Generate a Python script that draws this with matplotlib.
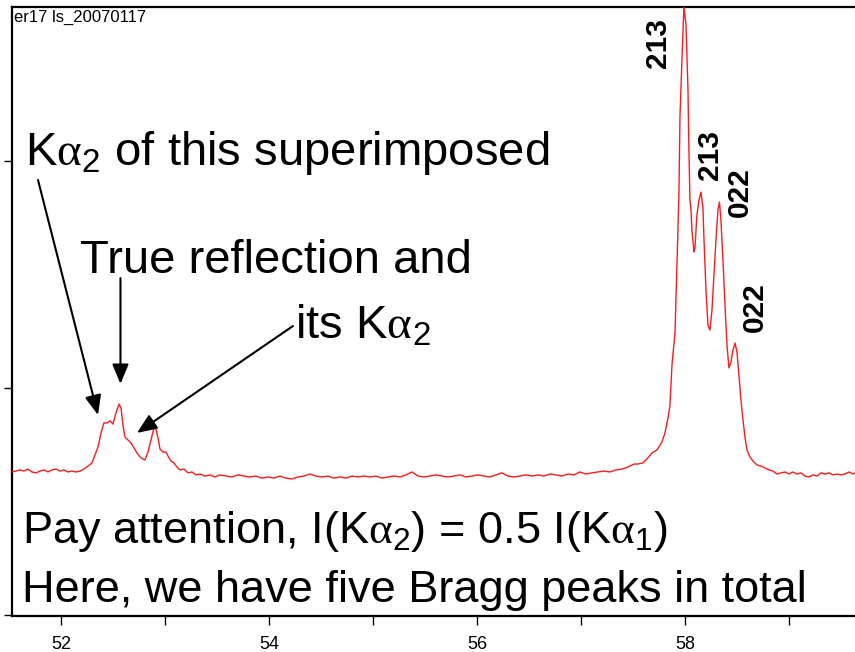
import matplotlib
matplotlib.use('Agg')
import matplotlib.pyplot as plt
from matplotlib import font_manager

# ── fonts ─────────────────────────────────────────────────────────────────────
plt.rcParams['font.family'] = ['Liberation Sans', 'DejaVu Sans']
plt.rcParams['mathtext.fontset'] = 'custom'
plt.rcParams['mathtext.rm'] = 'Liberation Sans'
plt.rcParams['mathtext.it'] = 'Liberation Sans:italic'
plt.rcParams['mathtext.sf'] = 'Liberation Serif'   # upright serif alpha
installed = {f.name for f in font_manager.fontManager.ttflist}
TICK_FONT = 'Liberation Sans Narrow' if 'Liberation Sans Narrow' in installed else 'Liberation Sans'

# ── diffraction scan (2theta in degrees, intensity in counts) ────────────────
two_theta = [
    51.529, 51.567, 51.606, 51.644, 51.683, 51.721, 51.760, 51.798, 51.837, 51.875,
    51.913, 51.952, 51.990, 52.029, 52.067, 52.106, 52.144, 52.183, 52.221, 52.260,
    52.298, 52.327, 52.356, 52.385, 52.413, 52.442, 52.471, 52.500, 52.529, 52.558,
    52.577, 52.596, 52.615, 52.644, 52.673, 52.702, 52.731, 52.760, 52.788, 52.808,
    52.837, 52.865, 52.894, 52.913, 52.933, 52.952, 52.981, 53.010, 53.029, 53.058,
    53.087, 53.115, 53.144, 53.183, 53.221, 53.260, 53.298, 53.337, 53.385, 53.433,
    53.481, 53.529, 53.587, 53.644, 53.702, 53.760, 53.817, 53.875, 53.933, 53.990,
    54.048, 54.106, 54.163, 54.221, 54.279, 54.337, 54.394, 54.452, 54.510, 54.567,
    54.625, 54.683, 54.740, 54.798, 54.856, 54.913, 54.971, 55.029, 55.087, 55.144,
    55.202, 55.260, 55.317, 55.375, 55.433, 55.490, 55.548, 55.606, 55.663, 55.721,
    55.779, 55.837, 55.894, 55.952, 56.010, 56.067, 56.125, 56.183, 56.240, 56.298,
    56.356, 56.413, 56.471, 56.529, 56.587, 56.644, 56.702, 56.760, 56.817, 56.875,
    56.933, 56.990, 57.048, 57.106, 57.163, 57.221, 57.279, 57.337, 57.394, 57.433,
    57.471, 57.510, 57.548, 57.596, 57.644, 57.683, 57.731, 57.779, 57.808, 57.837,
    57.856, 57.875, 57.904, 57.923, 57.942, 57.952, 57.971, 57.990, 58.010, 58.019,
    58.029, 58.038, 58.048, 58.058, 58.067, 58.087, 58.096, 58.115, 58.135, 58.154,
    58.173, 58.183, 58.202, 58.221, 58.240, 58.260, 58.279, 58.298, 58.317, 58.332,
    58.346, 58.365, 58.385, 58.404, 58.423, 58.442, 58.462, 58.481, 58.500, 58.519,
    58.538, 58.558, 58.577, 58.596, 58.625, 58.654, 58.692, 58.731, 58.769, 58.808,
    58.846, 58.885, 58.923, 58.962, 59.000, 59.038, 59.077, 59.115, 59.154, 59.192,
    59.231, 59.269, 59.308, 59.346, 59.385, 59.423, 59.462, 59.500, 59.538, 59.577,
    59.615, 59.635,
]
counts = [
    630, 634, 639, 634, 643, 630, 626, 634, 639, 630,
    639, 643, 634, 639, 630, 634, 630, 634, 643, 656,
    670, 705, 740, 802, 846, 846, 855, 841, 890, 929,
    912, 837, 784, 771, 758, 736, 714, 696, 687, 683,
    718, 771, 824, 819, 780, 731, 718, 718, 700, 678,
    670, 652, 639, 643, 626, 630, 617, 621, 612, 617,
    608, 617, 612, 608, 617, 612, 608, 612, 603, 608,
    603, 612, 603, 599, 608, 612, 621, 612, 608, 612,
    603, 608, 603, 612, 608, 612, 608, 612, 603, 608,
    612, 608, 617, 630, 612, 608, 612, 617, 612, 608,
    612, 617, 608, 612, 617, 612, 608, 617, 626, 612,
    608, 612, 617, 612, 617, 612, 621, 617, 612, 621,
    617, 630, 621, 626, 630, 634, 630, 639, 643, 648,
    656, 665, 665, 670, 692, 714, 727, 762, 802, 868,
    925, 1101, 1242, 1542, 1859, 2194, 2445, 2680, 2599, 2467,
    2313, 2048, 1828, 1784, 1696, 1599, 1617, 1762, 1828, 1863,
    1793, 1652, 1432, 1277, 1255, 1344, 1498, 1652, 1784, 1819,
    1740, 1564, 1366, 1189, 1088, 1114, 1167, 1198, 1159, 1057,
    947, 859, 784, 727, 696, 678, 661, 656, 648, 639,
    634, 621, 626, 630, 621, 630, 621, 626, 612, 608,
    617, 612, 626, 621, 626, 617, 621, 617, 621, 630,
    621, 626,
]

# reflection labels: (text, 2theta, counts)
hkl_labels = [('213', 57.740, 2520), ('213', 58.240, 2026),
              ('022', 58.529, 1863), ('022', 58.673, 1357)]

# annotation arrows: (tip 2theta, tip counts, tail 2theta, tail counts)
arrows = [(52.356, 881, 51.779, 1916),
          (52.572, 1018, 52.572, 1484),
          (52.731, 802, 54.231, 1273)]

X_RANGE = (51.529, 59.635)
Y_RANGE = (-4.4, 2678)

# ── figure ────────────────────────────────────────────────────────────────────
fig = plt.figure(figsize=(8.55, 6.52), dpi=100, facecolor='white')
ax = fig.add_axes([12 / 855, 1 - 616 / 652, 843 / 855, 609 / 652])

ax.plot(two_theta, counts, color='#ff1a1a', lw=1.0, zorder=3)

ax.set_xlim(*X_RANGE)
ax.set_ylim(*Y_RANGE)

for side in ('left', 'top', 'bottom'):
    ax.spines[side].set_linewidth(1.6)
    ax.spines[side].set_color('black')
ax.spines['right'].set_visible(False)

ax.set_xticks([52, 54, 56, 58])
ax.set_xticks([53, 55, 57, 59], minor=True)
ax.set_yticks([0, 1000, 2000])
ax.set_yticklabels([])
ax.tick_params(axis='x', which='both', direction='out', length=6.5, width=1.0,
               pad=8, labelsize=13)
ax.tick_params(axis='y', direction='out', length=6, width=1.0)
for lab in ax.get_xticklabels():
    lab.set_fontfamily(TICK_FONT)

ax.text(51.548, 2612, 'er17 ls_20070117', fontsize=12, family=TICK_FONT,
        ha='left', va='baseline')

# Miller indices, rotated
for txt, xx, yy in hkl_labels:
    ax.text(xx, yy, txt, rotation=90, fontsize=21.5, fontweight='bold',
            ha='center', va='center')

NOTE = 34       # annotation captions
BIG = 32.5      # two summary lines at the bottom
ax.text(51.654, 1982, r'K$\mathsf{\alpha}_2$ of this superimposed',
        fontsize=NOTE, ha='left', va='baseline')
ax.text(52.183, 1507, 'True reflection and', fontsize=NOTE, ha='left', va='baseline')
ax.text(54.250, 1220, r'its K$\mathsf{\alpha}_2$', fontsize=NOTE, ha='left', va='baseline')
ax.text(51.625, 317, r'Pay attention, I(K$\mathsf{\alpha}_2$) = 0.5 I(K$\mathsf{\alpha}_1$)',
        fontsize=BIG, ha='left', va='baseline')
ax.text(51.625, 57, 'Here, we have five Bragg peaks in total', fontsize=BIG,
        ha='left', va='baseline')

for tx, ty, sx, sy in arrows:
    ax.annotate('', xy=(tx, ty), xytext=(sx, sy),
                arrowprops=dict(arrowstyle='-|>,head_length=1.2,head_width=0.5',
                                mutation_scale=10, lw=1.5, color='black',
                                shrinkA=0, shrinkB=0))

plt.savefig('out.png', dpi=100, facecolor='white')
